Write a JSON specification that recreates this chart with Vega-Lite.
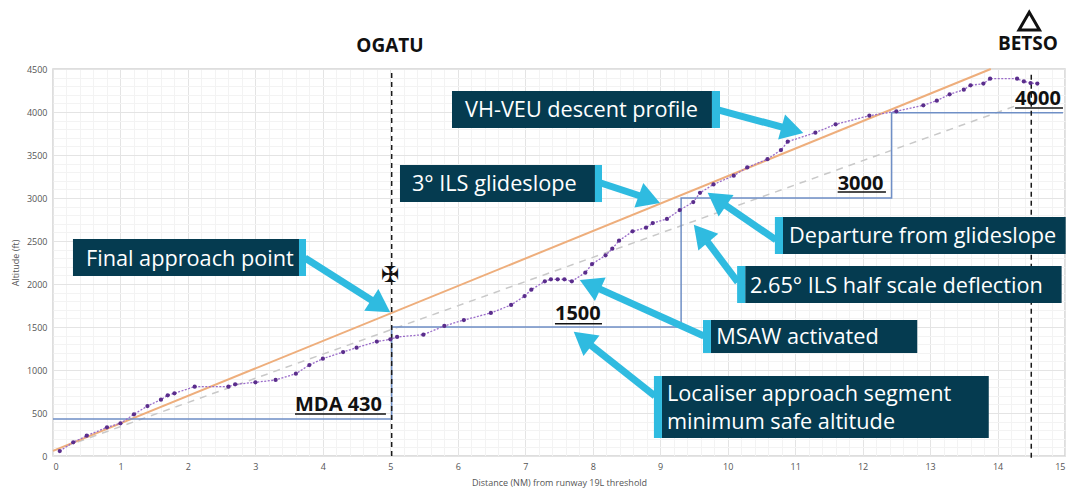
{
"$schema":"https://vega.github.io/schema/vega-lite/v6.json",
"width":1012,"height":387,
"autosize":{"type":"none"},
"padding":{"left":53,"top":69,"right":25,"bottom":47},
"background":"white",
"config":{"view":{"stroke":"#d4d4d4","strokeWidth":1.5},"font":"Open Sans"},
"datasets":{
"profile":[{"x":0.1,"y":58},{"x":0.3,"y":159},{"x":0.5,"y":236},{"x":0.8,"y":333},{"x":1.0,"y":380},{"x":1.2,"y":485},{"x":1.4,"y":581},{"x":1.6,"y":655},{"x":1.7,"y":705},{"x":1.8,"y":729},{"x":2.1,"y":806},{"x":2.6,"y":806},{"x":2.7,"y":833},{"x":3.0,"y":857},{"x":3.3,"y":884},{"x":3.6,"y":957},{"x":3.8,"y":1058},{"x":4.0,"y":1132},{"x":4.3,"y":1209},{"x":4.5,"y":1260},{"x":4.8,"y":1330},{"x":5.0,"y":1357},{"x":5.1,"y":1384},{"x":5.49,"y":1411},{"x":5.8,"y":1512},{"x":6.09,"y":1581},{"x":6.49,"y":1663},{"x":6.79,"y":1756},{"x":6.99,"y":1860},{"x":7.09,"y":1934},{"x":7.29,"y":2031},{"x":7.38,"y":2054},{"x":7.48,"y":2054},{"x":7.58,"y":2054},{"x":7.69,"y":2031},{"x":7.89,"y":2132},{"x":7.99,"y":2232},{"x":8.19,"y":2333},{"x":8.29,"y":2411},{"x":8.39,"y":2504},{"x":8.59,"y":2612},{"x":8.79,"y":2655},{"x":8.89,"y":2709},{"x":9.1,"y":2756},{"x":9.29,"y":2860},{"x":9.49,"y":2953},{"x":9.59,"y":3060},{"x":9.79,"y":3158},{"x":10.09,"y":3260},{"x":10.29,"y":3356},{"x":10.59,"y":3452},{"x":10.79,"y":3558},{"x":10.89,"y":3655},{"x":11.3,"y":3760},{"x":11.6,"y":3857},{"x":12.1,"y":3957},{"x":12.5,"y":4008},{"x":12.9,"y":4078},{"x":13.1,"y":4132},{"x":13.29,"y":4206},{"x":13.5,"y":4259},{"x":13.6,"y":4310},{"x":13.79,"y":4330},{"x":13.89,"y":4387},{"x":14.29,"y":4387},{"x":14.39,"y":4356},{"x":14.49,"y":4337},{"x":14.59,"y":4330}],
"glide":[{"x":0,"y":60},{"x":13.9,"y":4500}],
"halfscale":[{"x":0,"y":60},{"x":14.3,"y":4080}],
"msa":[{"x":0,"y":430},{"x":5.02,"y":430},{"x":5.02,"y":1500},{"x":9.31,"y":1500},{"x":9.31,"y":3000},{"x":12.43,"y":3000},{"x":12.43,"y":3990},{"x":14.97,"y":3990}],
"fixes":[{"x":5.02,"y":0,"y2":4465},{"x":14.5,"y":-20,"y2":4465}],
"boxes":[
{"x":5.914,"x2":9.767,"y":3814,"y2":4244,"part":"body"},{"x":9.767,"x2":9.886,"y":3814,"y2":4244,"part":"edge"},
{"x":5.143,"x2":8.033,"y":2953,"y2":3384,"part":"body"},{"x":8.033,"x2":8.137,"y":2953,"y2":3384,"part":"edge"},
{"x":0.296,"x2":3.646,"y":2093,"y2":2523,"part":"body"},{"x":3.646,"x2":3.75,"y":2093,"y2":2523,"part":"edge"},
{"x":10.82,"x2":15.01,"y":2349,"y2":2779,"part":"body"},{"x":10.7,"x2":10.82,"y":2349,"y2":2779,"part":"edge"},
{"x":10.26,"x2":14.95,"y":1779,"y2":2209,"part":"body"},{"x":10.14,"x2":10.26,"y":1779,"y2":2209,"part":"edge"},
{"x":9.752,"x2":12.81,"y":1198,"y2":1581,"part":"body"},{"x":9.634,"x2":9.752,"y":1198,"y2":1581,"part":"edge"},
{"x":9.026,"x2":13.87,"y":209,"y2":930,"part":"body"},{"x":8.907,"x2":9.026,"y":209,"y2":930,"part":"edge"}],
"arrows":[
{"x":9.87,"y":4023,"x2":10.96,"y2":3791,"heading":105.5},
{"x":8.12,"y":3174,"x2":8.84,"y2":2988,"heading":110},
{"x":3.735,"y":2302,"x2":4.858,"y2":1744,"heading":123},
{"x":10.716,"y":2512,"x2":9.84,"y2":2985,"heading":305},
{"x":10.15,"y":2023,"x2":9.606,"y2":2588,"heading":320},
{"x":9.648,"y":1395,"x2":7.96,"y2":1993,"heading":294.5},
{"x":8.922,"y":698,"x2":7.85,"y2":1363,"heading":308}],
"boxtext":[
{"x":6.107,"y":4023,"t":"VH-VEU descent profile"},
{"x":5.32,"y":3163,"t":"3° ILS glideslope"},
{"x":0.489,"y":2291,"t":"Final approach point"},
{"x":10.91,"y":2558,"t":"Departure from glideslope"},
{"x":10.33,"y":1977,"t":"2.65° ILS half scale deflection"},
{"x":9.83,"y":1384,"t":"MSAW activated"},
{"x":9.1,"y":721,"t":"Localiser approach segment"},
{"x":9.1,"y":395,"t":"minimum safe altitude"}],
"altlabels":[
{"x":3.587,"x2":4.935,"y":593,"u":488,"t":"MDA 430"},
{"x":7.44,"x2":8.137,"y":1651,"u":1538,"t":"1500"},
{"x":11.63,"x2":12.346,"y":3163,"u":3070,"t":"3000"},
{"x":14.26,"x2":14.97,"y":4151,"u":4047,"t":"4000"}],
"fixnames":[{"x":4.995,"y":4767,"t":"OGATU"},{"x":14.45,"y":4791,"t":"BETSO"}],
"faf":[{"x":5.0,"y":2105,"t":"✠"}],
"iaf":[{"x":14.47,"y":5058}]
},
"encoding":{
"x":{"field":"x","type":"quantitative","scale":{"domain":[0,15]},"axis":null},
"y":{"field":"y","type":"quantitative","scale":{"domain":[0,4500]},"axis":null}
},
"resolve":{"axis":{"x":"independent","y":"independent"}},
"layer":[
{"data":{"name":"glide"},"mark":{"type":"point","opacity":0},
"encoding":{
"x":{"field":"x","type":"quantitative","scale":{"domain":[0,15]},"axis":{"orient":"bottom","values":[0.2,0.4,0.6,0.8,1.2,1.4,1.6,1.8,2.2,2.4,2.6,2.8,3.2,3.4,3.6,3.8,4.2,4.4,4.6,4.8,5.2,5.4,5.6,5.8,6.2,6.4,6.6,6.8,7.2,7.4,7.6,7.8,8.2,8.4,8.6,8.8,9.2,9.4,9.6,9.8,10.2,10.4,10.6,10.8,11.2,11.4,11.6,11.8,12.2,12.4,12.6,12.8,13.2,13.4,13.6,13.8,14.2,14.4,14.6,14.8],"labels":false,"ticks":false,"domain":false,"title":null,"grid":true,"gridColor":"#f3f3f3","gridWidth":1}},
"y":{"field":"y","type":"quantitative","scale":{"domain":[0,4500]},"axis":{"orient":"left","values":[100,200,300,400,600,700,800,900,1100,1200,1300,1400,1600,1700,1800,1900,2100,2200,2300,2400,2600,2700,2800,2900,3100,3200,3300,3400,3600,3700,3800,3900,4100,4200,4300,4400],"labels":false,"ticks":false,"domain":false,"title":null,"grid":true,"gridColor":"#f3f3f3","gridWidth":1}}
}},
{"data":{"name":"glide"},"mark":{"type":"point","opacity":0},
"encoding":{
"x":{"field":"x","type":"quantitative","scale":{"domain":[0,15]},"axis":{"orient":"bottom","values":[0,1,2,3,4,5,6,7,8,9,10,11,12,13,14,15],"format":"d","title":"Distance (NM) from runway 19L threshold","titleFont":"Open Sans","titleFontWeight":"normal","titleFontSize":9,"titleColor":"#555555","titlePadding":7,"labelFontSize":9,"labelColor":"#555555","labelPadding":6,"ticks":false,"domain":false,"grid":true,"gridColor":"#e4e4e4","gridWidth":1}},
"y":{"field":"y","type":"quantitative","scale":{"domain":[0,4500]},"axis":{"orient":"left","values":[0,500,1000,1500,2000,2500,3000,3500,4000,4500],"format":"d","title":"Altitude (ft)","titleFont":"Open Sans","titleFontWeight":"normal","titleFontSize":9,"titleColor":"#555555","titlePadding":6,"labelFontSize":9,"labelColor":"#555555","labelPadding":6,"ticks":false,"domain":false,"grid":true,"gridColor":"#e4e4e4","gridWidth":1}}
}},
{"data":{"name":"halfscale"},"mark":{"type":"line","stroke":"#c9c9c9","strokeWidth":1.5,"strokeDash":[7,6]}},
{"data":{"name":"glide"},"mark":{"type":"line","stroke":"#eeae7c","strokeWidth":2}},
{"data":{"name":"msa"},"mark":{"type":"line","stroke":"#6f8fc6","strokeWidth":1.5},"encoding":{"order":{"field":"x","type":"quantitative"}}},
{"data":{"name":"fixes"},"mark":{"type":"rule","stroke":"#1a1a1a","strokeWidth":1.5,"strokeDash":[5,4]},"encoding":{"y2":{"field":"y2"}}},
{"data":{"name":"profile"},"mark":{"type":"line","stroke":"#9a6cc9","strokeWidth":1.3,"strokeDash":[2,1.5]}},
{"data":{"name":"profile"},"mark":{"type":"point","filled":true,"color":"#5a2d8c","size":18,"opacity":1}},
{"data":{"name":"arrows"},"mark":{"type":"rule","stroke":"#2fbbe0","strokeWidth":7},"encoding":{"x2":{"field":"x2"},"y2":{"field":"y2"}}},
{"data":{"name":"arrows"},"mark":{"type":"point","shape":"triangle-up","filled":true,"color":"#2fbbe0","size":676,"opacity":1},
"encoding":{"x":{"field":"x2","type":"quantitative"},"y":{"field":"y2","type":"quantitative"},"angle":{"field":"heading","type":"quantitative","scale":{"domain":[0,360],"range":[0,360]},"legend":null}}},
{"data":{"name":"boxes"},"mark":{"type":"rect"},"encoding":{"x2":{"field":"x2"},"y2":{"field":"y2"},"color":{"field":"part","type":"nominal","scale":{"domain":["body","edge"],"range":["#053b50","#2fbbe0"]},"legend":null}}},
{"data":{"name":"boxtext"},"mark":{"type":"text","align":"left","baseline":"middle","color":"white","fontSize":21.7,"font":"Open Sans"},"encoding":{"text":{"field":"t"}}},
{"data":{"name":"altlabels"},"mark":{"type":"text","align":"left","baseline":"middle","color":"#111111","fontSize":20,"fontWeight":"bold","font":"Open Sans"},"encoding":{"text":{"field":"t"}}},
{"data":{"name":"altlabels"},"mark":{"type":"rule","stroke":"#111111","strokeWidth":1.5},"encoding":{"y":{"field":"u","type":"quantitative"},"x2":{"field":"x2"}}},
{"data":{"name":"fixnames"},"mark":{"type":"text","align":"center","baseline":"middle","color":"#111111","fontSize":19,"fontWeight":"bold","font":"Open Sans"},"encoding":{"text":{"field":"t"}}},
{"data":{"name":"faf"},"mark":{"type":"text","align":"center","baseline":"middle","color":"#111111","fontSize":22,"font":"DejaVu Sans"},"encoding":{"text":{"field":"t"}}},
{"data":{"name":"iaf"},"mark":{"type":"point","shape":"triangle-up","filled":false,"color":"#111111","strokeWidth":3,"size":420,"opacity":1}}
]
}
